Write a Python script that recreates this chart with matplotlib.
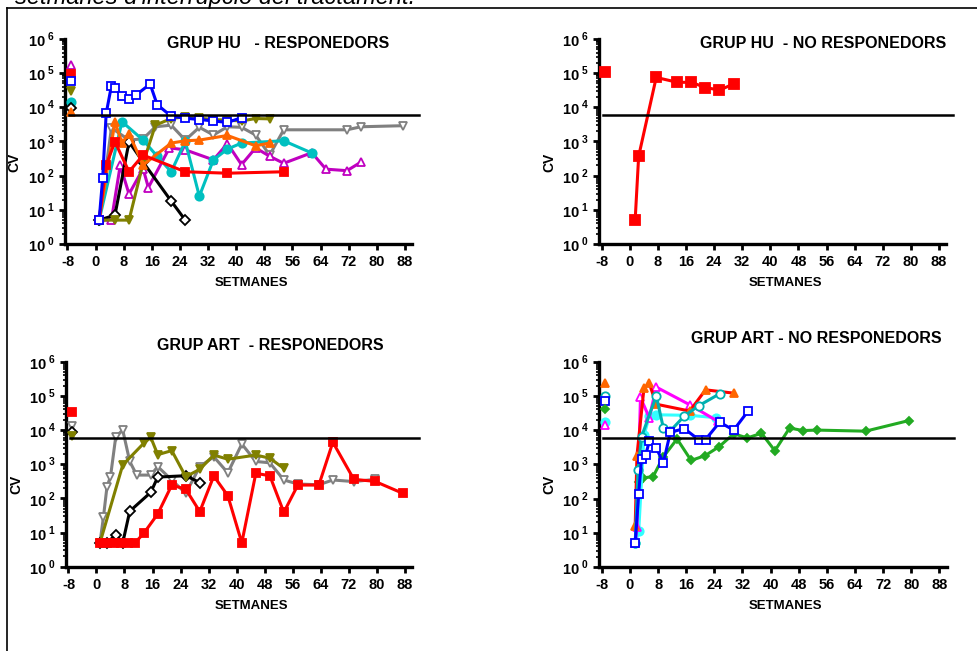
import matplotlib.pyplot as plt
import matplotlib.ticker as ticker
from matplotlib.lines import Line2D
import numpy as np

plt.rcParams['font.family'] = 'Liberation Sans'
plt.rcParams['font.weight'] = 'bold'
plt.rcParams['mathtext.fontset'] = 'custom'
plt.rcParams['mathtext.rm'] = 'Liberation Sans:bold'
plt.rcParams['mathtext.bf'] = 'Liberation Sans:bold'
plt.rcParams['axes.unicode_minus'] = False

xticks = [-8, 0, 8, 16, 24, 32, 40, 48, 56, 64, 72, 80, 88]
xtick_labels = ['-8', '0', '8', '16', '24', '32', '40', '48', '56', '64', '72', '80', '88']
llindar = 6000
base_wk = -7  # punt previ a la interrupcio

# ---- GRUP HU - RESPONEDORS ----
hu_r_gray_wk = [1, 4.5, 9.5, 13.5, 17, 21.5, 25.5, 29.5, 33.5, 37.5, 41.5, 45.5, 49.5, 53.5, 71.5, 75.5, 87.5]
hu_r_gray_cv = [5, 2500, 1100, 1200, 2700, 3000, 1100, 2600, 1550, 2700, 2600, 1550, 400, 2200, 2200, 2700, 2900]
hu_r_mag_wk = [1, 4.5, 7, 9.5, 13.5, 15, 21, 25.5, 33.5, 37.5, 41.5, 45.5, 49.5, 53.5, 61.5, 65.5, 71.5, 75.5]
hu_r_mag_cv = [5, 5, 200, 29, 160, 45, 650, 570, 290, 870, 210, 650, 370, 230, 470, 155, 140, 250]
hu_r_cyan_wk = [1, 7.5, 13.5, 17.5, 21.5, 25.5, 29.5, 33.5, 37.5, 41.5, 53.5, 61.5]
hu_r_cyan_cv = [5, 3800, 1100, 370, 130, 1000, 25, 290, 600, 900, 1050, 460]
hu_r_black_wk = [1, 5.5, 9.5, 13.5, 21.5, 25.5]
hu_r_black_cv = [5, 7, 980, 250, 18, 5]
hu_r_olive_wk = [1, 5.5, 9.5, 13.5, 17, 21.5, 25.5, 29.5, 33.5, 37.5, 41.5, 45.5, 49.5]
hu_r_olive_cv = [5, 5, 5, 230, 3000, 4700, 5300, 4800, 4400, 4200, 4000, 4700, 4600]
hu_r_orange_wk = [1, 5.5, 7.5, 9.5, 13.5, 21.5, 25.5, 29.5, 37.5, 45.5, 49.5]
hu_r_orange_cv = [5, 3800, 900, 1700, 205, 900, 1050, 1100, 1500, 750, 900]
hu_r_red_wk = [1, 3, 5.5, 9.5, 13.5, 25.5, 37.5, 53.5]
hu_r_red_cv = [5, 205, 980, 130, 400, 130, 118, 130]
hu_r_blue_wk = [1, 2, 3, 4.5, 5.5, 7.5, 9.5, 11.5, 15.5, 17.5, 21.5, 25.5, 29.5, 33.5, 37.5, 41.5]
hu_r_blue_cv = [5, 83, 6600, 4.3e4, 3.8e4, 2.1e4, 1.8e4, 2.3e4, 4.8e4, 1.2e4, 5500, 4800, 4400, 4000, 3600, 5000]
# valors previs (setmana -8)
hu_r_base_cv = [1.7e5, 9.5e4, 5.9e4, 3.1e4, 1.4e4, 9.4e3, 7.5e3]

# ---- GRUP HU - NO RESPONEDORS ----
hu_nr_red_wk = [1.5, 2.5, 7.5, 13.5, 17.5, 21.5, 25.5, 29.5]
hu_nr_red_cv = [5, 370, 7.5e4, 5.4e4, 5.4e4, 3.8e4, 3.2e4, 4.8e4]
hu_nr_base_cv = [1.1e5]

# ---- GRUP ART - RESPONEDORS ----
art_r_gray_wk = [1, 2, 3, 4, 5.5, 7.5, 9.5, 11.5, 15.5, 17.5, 21.5, 25.5, 29.5, 33.5, 37.5, 41.5,
                 45.5, 49.5, 53.5, 57.5, 63.5, 67.5, 73.5, 79.5]
art_r_gray_cv = [5, 29, 220, 430, 6300, 1e4, 1200, 480, 480, 850, 345, 140, 850, 1650, 560, 3900,
                 1200, 1100, 345, 263, 250, 345, 310, 360]
art_r_black_wk = [1, 3, 5.5, 7.5, 9.5, 15.5, 17.5, 25.5, 29.5]
art_r_black_cv = [5, 5, 8.5, 5, 42, 150, 420, 460, 290]
art_r_olive_wk = [1, 7.5, 13.5, 15.5, 17.5, 21.5, 25.5, 29.5, 33.5, 37.5, 45.5, 49.5, 53.5]
art_r_olive_cv = [5, 950, 4100, 6100, 1900, 2500, 430, 710, 1850, 1400, 1850, 1500, 750]
art_r_red_wk = [1, 3, 5, 7, 9, 11, 13.5, 17.5, 21.5, 25.5, 29.5, 33.5, 37.5, 41.5, 45.5, 49.5,
                53.5, 57.5, 63.5, 67.5, 73.5, 79.5, 87.5]
art_r_red_cv = [5, 5, 5, 5, 5, 5, 9.5, 35, 245, 185, 41, 450, 120, 5, 540, 460,
                39, 245, 245, 4400, 360, 315, 140]
art_r_base_cv = [3.3e4, 1.3e4, 8.5e3, 6.7e3]

# ---- GRUP ART - NO RESPONEDORS ----
art_nr_green_wk = [1.5, 2.5, 3.8, 6.6, 9.4, 13.4, 17.4, 21.4, 25.4, 29.5, 33.4, 37.4, 41.2,
                   45.4, 49.2, 53.2, 67, 79.3]
art_nr_green_cv = [5, 300, 400, 440, 1600, 5500, 1300, 1800, 3300, 7800, 5900, 8100, 2500,
                   1.15e4, 9700, 1e4, 9300, 1.9e4]
art_nr_lcyan_wk = [1.5, 2.5, 4, 5.5, 7.5, 17, 24.5]
art_nr_lcyan_cv = [5, 11, 7000, 2.5e4, 2.8e4, 2.7e4, 2.3e4]
art_nr_mag_wk = [1.5, 2, 3, 5.5, 7.5, 17, 25]
art_nr_mag_cv = [5, 15, 9e4, 2.3e4, 1.8e5, 5.5e4, 1.8e4]
art_nr_orange_wk = [1.5, 2, 4, 5.5, 7.5, 17, 21.5, 29.5]
art_nr_orange_cv = [16, 1800, 1.7e5, 2.3e5, 5.7e4, 3.6e4, 1.5e5, 1.2e5]
art_nr_teal_wk = [1.5, 2.3, 3.3, 7.5, 9.5, 11.5, 15.5, 19.5, 25.5]
art_nr_teal_cv = [5, 680, 6400, 1e5, 1.15e4, 9500, 2.6e4, 5.1e4, 1.15e5]
art_nr_blue_wk = [1.5, 2.5, 3.3, 4.5, 5.5, 7.5, 9.5, 11.5, 15.5, 19.5, 21.5, 25.5, 29.5, 33.5]
art_nr_blue_cv = [5, 140, 1400, 1900, 4700, 3000, 1100, 8700, 1.1e4, 5300, 5300, 1.7e4, 1e4, 3.5e4]
art_nr_base_cv = [2.3e5, 1e5, 7.1e4, 4.1e4, 1.7e4, 1.45e4]

GRAY = '#808080'
MAG = '#c000c0'
CYAN = '#00c0c0'
OLIVE = '#808000'
ORANGE = '#ff6600'
RED = '#ff0000'
BLUE = '#0000ff'
GREEN = '#22aa22'
PINK = '#ff00ff'
LCYAN = '#33ffff'
TEAL = '#00b0b0'


def serie(ax, wk, cv, color, marker, open_=False, ms=6, lw=2.2, mcolor=None):
    mc = mcolor or color
    ax.plot(wk, cv, color=color, lw=lw, marker=marker, ms=ms, mec=mc,
            mfc='white' if open_ else mc, mew=1.3, clip_on=False, zorder=3)


def setup(ax):
    ax.set_yscale('log')
    ax.set_ylim(1, 1e6)
    ax.set_xlim(-8.7, 90)
    ax.spines[['top', 'right']].set_visible(False)
    ax.spines[['left', 'bottom']].set_linewidth(2.4)
    ax.set_xticks(xticks)
    ax.set_xticklabels(xtick_labels)
    ax.yaxis.set_major_locator(ticker.LogLocator(base=10, numticks=10))
    ax.yaxis.set_minor_locator(ticker.LogLocator(base=10, subs=np.arange(2, 10), numticks=10))
    ax.yaxis.set_minor_formatter(ticker.NullFormatter())
    ax.yaxis.set_major_formatter(ticker.FuncFormatter(
        lambda v, _: r'$10^{\ %d}$' % int(round(np.log10(v)))))
    ax.tick_params(axis='both', which='major', direction='out', length=4, width=2,
                   labelsize=10.5, pad=3)
    ax.tick_params(axis='x', which='major', pad=4)
    ax.tick_params(axis='y', which='minor', direction='out', length=2.5, width=1.2)
    ax.plot([-7.7, 92], [llindar, llindar], color='black', lw=1.8, clip_on=False, zorder=4)
    ax.text(0.536, -0.19, 'SETMANES', transform=ax.transAxes, ha='center', va='center', fontsize=9.5)
    ax.text(-0.145, 0.40, 'CV', transform=ax.transAxes, ha='center', va='center',
            rotation=90, fontsize=10)


fig = plt.figure(figsize=(9.78, 6.51), dpi=100)
ax1 = fig.add_axes([0.0665, 0.6252, 0.3548, 0.3149])
ax2 = fig.add_axes([0.6128, 0.6252, 0.3545, 0.3149])
ax3 = fig.add_axes([0.0675, 0.1295, 0.3534, 0.3149])
ax4 = fig.add_axes([0.6128, 0.1290, 0.3550, 0.3155])
for ax in (ax1, ax2, ax3, ax4):
    setup(ax)

# HU responedors
serie(ax1, hu_r_gray_wk, hu_r_gray_cv, GRAY, 'v', open_=True)
serie(ax1, hu_r_mag_wk, hu_r_mag_cv, MAG, '^', open_=True)
serie(ax1, hu_r_cyan_wk, hu_r_cyan_cv, CYAN, 'o')
serie(ax1, hu_r_black_wk, hu_r_black_cv, 'black', 'D', open_=True, ms=5)
serie(ax1, hu_r_olive_wk, hu_r_olive_cv, OLIVE, 'v')
serie(ax1, hu_r_orange_wk, hu_r_orange_cv, ORANGE, '^')
serie(ax1, hu_r_red_wk, hu_r_red_cv, RED, 's')
serie(ax1, hu_r_blue_wk, hu_r_blue_cv, BLUE, 's', open_=True)
base1 = [(MAG, '^', True), (RED, 's', False), (BLUE, 's', True), (OLIVE, 'v', False),
         (CYAN, 'o', False), ('black', 'D', True), (ORANGE, '^', False)]
for (c, m, o), v in zip(base1, hu_r_base_cv):
    serie(ax1, [base_wk], [v], c, m, open_=o, ms=5 if m == 'D' else 6)

# HU no responedors
serie(ax2, hu_nr_red_wk, hu_nr_red_cv, RED, 's', ms=7)
serie(ax2, [base_wk], hu_nr_base_cv, RED, 's', ms=7)

# ART responedors
serie(ax3, art_r_gray_wk, art_r_gray_cv, GRAY, 'v', open_=True)
serie(ax3, art_r_black_wk, art_r_black_cv, 'black', 'D', open_=True, ms=5)
serie(ax3, art_r_olive_wk, art_r_olive_cv, OLIVE, 'v')
serie(ax3, art_r_red_wk, art_r_red_cv, RED, 's')
base3 = [(RED, 's', False), (GRAY, 'v', True), ('black', 'D', True), (OLIVE, 'v', False)]
for (c, m, o), v in zip(base3, art_r_base_cv):
    serie(ax3, [base_wk], [v], c, m, open_=o, ms=5 if m == 'D' else 6)

# ART no responedors
serie(ax4, art_nr_green_wk, art_nr_green_cv, GREEN, 'D', ms=4.5)
serie(ax4, art_nr_lcyan_wk, art_nr_lcyan_cv, LCYAN, 'o')
serie(ax4, art_nr_mag_wk, art_nr_mag_cv, PINK, '^', open_=True)
serie(ax4, art_nr_orange_wk, art_nr_orange_cv, RED, '^', mcolor=ORANGE)
serie(ax4, art_nr_teal_wk, art_nr_teal_cv, TEAL, 'o', open_=True)
serie(ax4, art_nr_blue_wk, art_nr_blue_cv, BLUE, 's', open_=True)
base4 = [(ORANGE, '^', False), (TEAL, 'o', True), (BLUE, 's', True), (GREEN, 'D', False),
         (LCYAN, 'o', False), (PINK, '^', True)]
for (c, m, o), v in zip(base4, art_nr_base_cv):
    serie(ax4, [base_wk], [v], c, m, open_=o, ms=4.5 if m == 'D' else 6)

# titols
fig.text(278 / 978, 1 - 43 / 651, 'GRUP HU   - RESPONEDORS', ha='center', va='center', fontsize=11.5)
fig.text(823 / 978, 1 - 43 / 651, 'GRUP HU  - NO RESPONEDORS', ha='center', va='center', fontsize=11.5)
fig.text(270 / 978, 1 - 345 / 651, 'GRUP ART  - RESPONEDORS', ha='center', va='center', fontsize=11.5)
fig.text(816 / 978, 1 - 338 / 651, 'GRUP ART - NO RESPONEDORS', ha='center', va='center', fontsize=11.5)

# text tallat de dalt i marc
fig.text(15 / 978, 1 - 4 / 651, "setmanes d'interrupció del tractament.", ha='left', va='baseline',
         fontsize=17, style='italic', weight='normal')
fig.add_artist(Line2D([7 / 978, 1.0], [1 - 7.5 / 651, 1 - 7.5 / 651], color='black', lw=1.2))
fig.add_artist(Line2D([7 / 978, 7 / 978], [0, 1 - 7.5 / 651], color='black', lw=1.2))

plt.savefig('out.png', dpi=100)
